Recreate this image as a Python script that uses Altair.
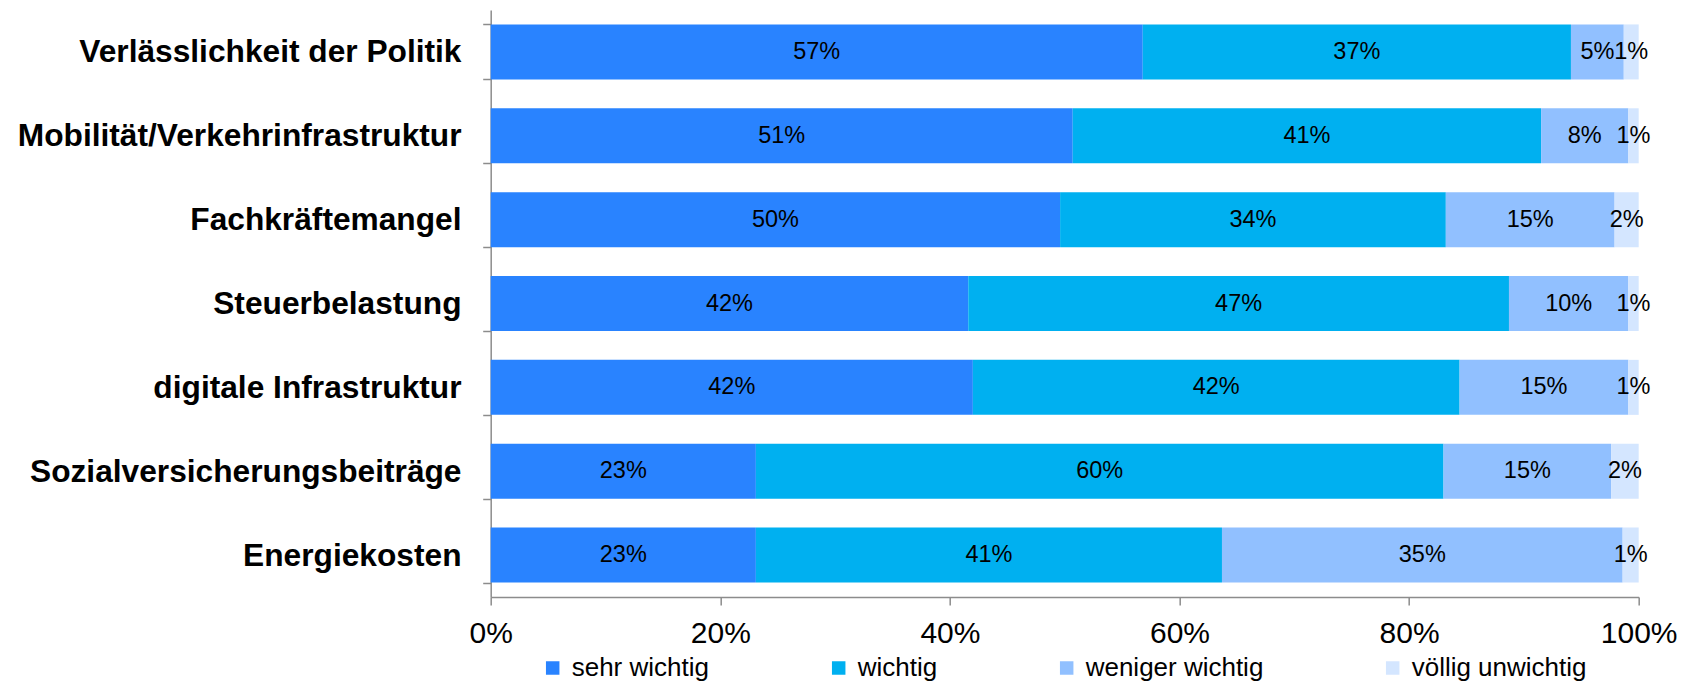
import altair as alt
import pandas as pd

items = [
    "Verlässlichkeit der Politik",
    "Mobilität/Verkehrinfrastruktur",
    "Fachkräftemangel",
    "Steuerbelastung",
    "digitale Infrastruktur",
    "Sozialversicherungsbeiträge",
    "Energiekosten",
]
categories = ["sehr wichtig", "wichtig", "weniger wichtig", "völlig unwichtig"]
colors = ["#2983FF", "#00B0F0", "#91C0FF", "#D4E6FF"]

sehr_wichtig = [0.568, 0.507, 0.496, 0.416, 0.420, 0.231, 0.231]
wichtig = [0.373, 0.408, 0.336, 0.471, 0.424, 0.599, 0.406]
weniger_wichtig = [0.046, 0.076, 0.147, 0.104, 0.147, 0.146, 0.349]
voellig_unwichtig = [0.013, 0.009, 0.021, 0.009, 0.009, 0.024, 0.014]
x_ticks = [0, 0.2, 0.4, 0.6, 0.8, 1.0]

series = [sehr_wichtig, wichtig, weniger_wichtig, voellig_unwichtig]
rows = []
for i, item in enumerate(items):
    for k, cat in enumerate(categories):
        rows.append({"item": item, "cat": cat, "order": k, "value": series[k][i]})
df = pd.DataFrame(rows)

GRAY = "#8c8c8c"
FONT = "Liberation Sans"

base = alt.Chart(df).transform_stack(
    stack="value",
    groupby=["item"],
    as_=["x0", "x1"],
    sort=[alt.SortField("order", order="ascending")],
).transform_calculate(mid="(datum.x0 + datum.x1) / 2")

y_enc = alt.Y(
    "item:N",
    sort=items,
    title=None,
    scale=alt.Scale(paddingInner=0.344, paddingOuter=0.172),
    axis=alt.Axis(
        labelFont=FONT,
        labelFontSize=31.7,
        labelFontWeight="bold",
        labelColor="black",
        labelLimit=1000,
        labelPadding=21.7,
        tickSize=8,
        tickBand="extent",
        tickColor=GRAY,
        tickWidth=1.5,
        domainColor=GRAY,
        domainWidth=1.5,
        grid=False,
    ),
)

bars = base.mark_bar().encode(
    x=alt.X(
        "x0:Q",
        title=None,
        scale=alt.Scale(domain=[0, 1], nice=False, zero=True),
        axis=alt.Axis(
            values=x_ticks,
            format=".0%",
            labelFont=FONT,
            labelFontSize=30,
            labelColor="black",
            labelPadding=14,
            labelFlush=False,
            labelOverlap=False,
            tickSize=8,
            tickColor=GRAY,
            tickWidth=1.5,
            domainColor=GRAY,
            domainWidth=1.5,
            grid=False,
        ),
    ),
    x2="x1:Q",
    y=y_enc,
    color=alt.Color(
        "cat:N",
        scale=alt.Scale(domain=categories, range=colors),
        legend=alt.Legend(
            title=None,
            orient="none",
            legendX=49,
            legendY=645,
            direction="horizontal",
            columns=4,
            padding=0,
            labelFont=FONT,
            labelFontSize=26,
            labelColor="black",
            labelOffset=6,
            labelLimit=1000,
            symbolType="square",
            symbolSize=182,
            symbolStrokeWidth=0,
            columnPadding=116,
        ),
    ),
    order=alt.Order("order:Q"),
)

labels = base.mark_text(font=FONT, fontSize=23.5, color="black").encode(
    x=alt.X("mid:Q"),
    y=alt.Y("item:N", sort=items),
    text=alt.Text("value:Q", format=".0%"),
)

chart = (
    alt.layer(bars, labels)
    .properties(
        width=1148,
        height=587,
        autosize=alt.AutoSizeParams(type="none"),
        padding={"left": 482.7, "top": 2, "right": 40, "bottom": 86},
    )
    .configure_view(stroke=None)
)

chart.save("out.html", embed_options={"renderer": "svg", "actions": False})
